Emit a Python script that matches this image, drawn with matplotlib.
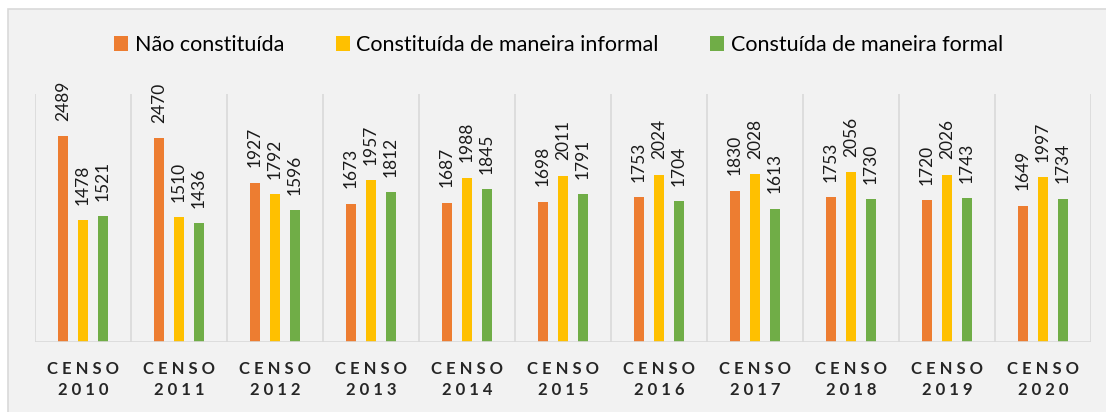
import matplotlib.pyplot as plt
import numpy as np
from matplotlib.patches import Rectangle

plt.rcParams['font.family'] = ['Lato', 'DejaVu Sans']

anos = ['2010', '2011', '2012', '2013', '2014', '2015', '2016', '2017', '2018', '2019', '2020']
nao_constituida = [2489, 2470, 1927, 1673, 1687, 1698, 1753, 1830, 1753, 1720, 1649]
informal = [1478, 1510, 1792, 1957, 1988, 2011, 2024, 2028, 2056, 2026, 1997]
formal = [1521, 1436, 1596, 1812, 1845, 1791, 1704, 1613, 1730, 1743, 1734]

series = [('Não constituída', nao_constituida, '#ed7d31'),
          ('Constituída de maneira informal', informal, '#ffc000'),
          ('Constuída de maneira formal', formal, '#70ad47')]

fig = plt.figure(figsize=(11.06, 4.12), dpi=100, facecolor='white')
fig.patches.append(Rectangle((8/1106, -0.01), 1.0, (412-9)/412 + 0.01, transform=fig.transFigure,
                             facecolor='#f2f2f2', edgecolor='#d9d9d9', lw=1.2, zorder=-5))
ax = fig.add_axes([35/1106, 70/412, 1056/1106, 248/412])
ax.set_facecolor('#f2f2f2')

x = np.arange(len(anos))
w = 0.105
step = 0.208
for i, (nome, vals, cor) in enumerate(series):
    pos = x + (i - 1) * step
    bars = ax.bar(pos, vals, w, color=cor, label=nome, zorder=2)
    for b, v in zip(bars, vals):
        ax.annotate(str(v), (b.get_x() + b.get_width() / 2, v), xytext=(0, 11),
                    textcoords='offset points', rotation=90, ha='center', va='bottom',
                    fontsize=12.5, color='#1a1a1a')

ax.set_xlim(-0.5, len(anos) - 0.5)
ax.set_ylim(0, 3000)
for s in ax.spines.values():
    s.set_visible(False)
ax.axhline(0, color='#d9d9d9', lw=1.2, zorder=3)
for b in np.arange(-0.5, len(anos), 1.0):
    ax.axvline(b, color='#d9d9d9', lw=1.2, zorder=1)
ax.set_yticks([])
ax.set_xticks(x)
ax.set_xticklabels(['C E N S O\n' + ' '.join(a) for a in anos], fontsize=12,
                   fontweight='bold', color='#262626', linespacing=1.35)
ax.tick_params(axis='x', length=0, pad=14)

fig.legend(loc='center', bbox_to_anchor=(0.505, 1 - 45/412), ncol=3, frameon=False,
           fontsize=15.5, handlelength=0.65, handleheight=0.65, handletextpad=0.3,
           columnspacing=2.4)

fig.savefig('out.png', dpi=100, facecolor='white')
